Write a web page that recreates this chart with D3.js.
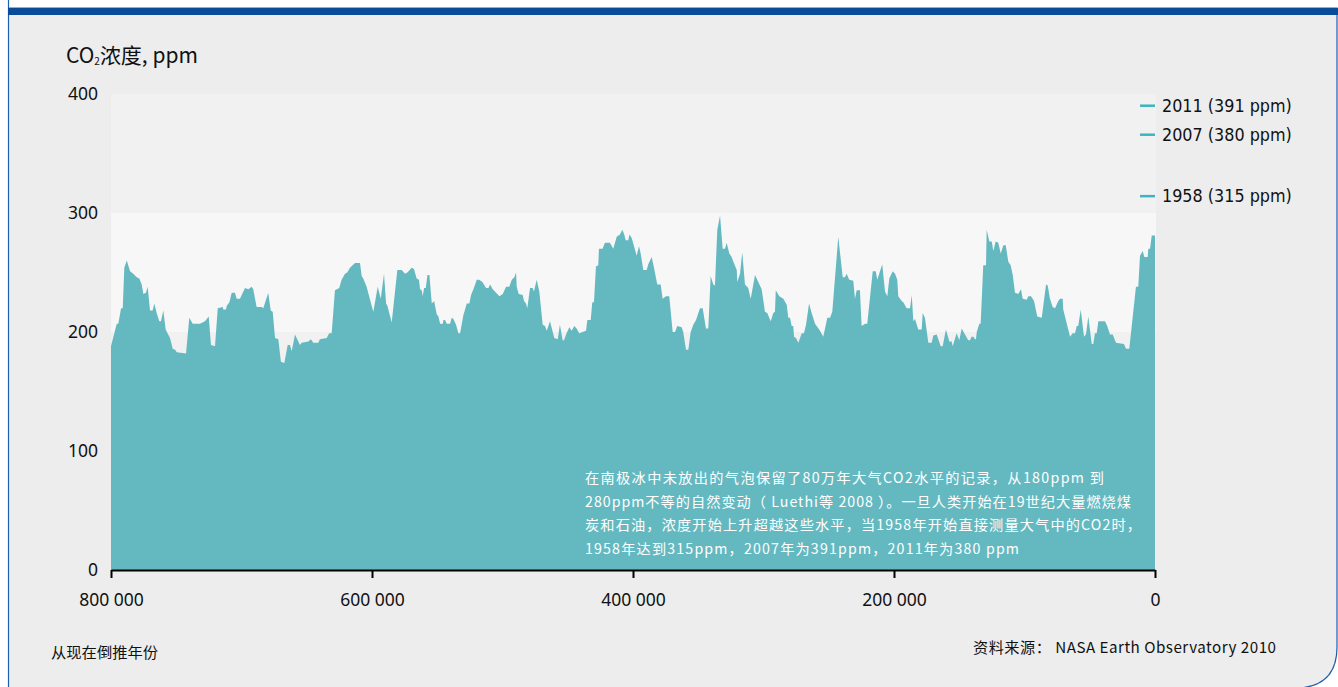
<!DOCTYPE html>
<html><head><meta charset="utf-8">
<script src="https://cdn.jsdelivr.net/npm/d3@7"></script>
<style>body{margin:0;background:#fff;}svg{display:block}</style>
</head><body>
<svg id="c" width="1338" height="687"></svg>
<script>
// kyr before present
const years = [800,795.6,794.4,792.3,791,789.8,787.9,785.4,782.9,780.3,778.3,776.5,775.2,773.2,771.9,770.1,768.1,766.8,765,763,761.7,759.9,758.1,754.8,752.7,750.9,749.6,742.5,740,737.4,731.8,728,725.1,723.4,720.3,718.2,714.4,713.9,711.9,711.3,709.3,707.5,705,703.7,701.2,697.3,694.8,692.2,691,688.4,684.5,683.3,679.5,677.6,676.1,674.3,671.8,669.8,667.2,664.6,662.9,661.5,659,655.2,653.9,648.8,646.8,645,641.2,639.9,634.7,632.8,630.9,628.4,625.1,623.3,620.7,619,616.9,613,609.2,607.9,606.7,604.1,601.5,599,595.6,593.3,590.8,589.2,588.2,584.9,580.6,577.2,574.7,572.9,569.6,567.8,565.8,564,563.2,561.9,561.1,560.1,558.8,557.5,556,554.2,552.4,550.4,549.1,547.8,545.7,545.3,544,542.7,540.2,538.9,537.6,535.6,533.8,532.5,530,528.7,527.4,525.4,524.1,522.3,519.7,517.9,515.4,512.6,510.8,509.5,507.5,504.9,502.4,499.8,497.3,494.8,492.9,490.9,489.6,489.1,487.6,484.5,483.5,482,481,478.9,476.9,475.9,473.8,471.8,469.2,467.4,466.1,463.6,460.3,457.7,456,453.9,452.9,450.9,448.8,447,445,443.2,441.2,436,435,432.4,431.2,429.9,428.4,426.6,426.1,423.3,421.5,417.7,415.1,412.5,410,408.2,406.7,405.6,403.6,402.8,401,399.2,397.2,395.4,394.1,392.1,389.5,388.3,385.7,383.9,381.4,378.8,377.3,374.7,372.2,369.6,367.8,366.1,362.7,361.5,359.4,357.6,355.8,353.8,351.7,348.7,346.6,344.1,342.3,340.5,338.5,337.2,335.4,333.3,331.3,329.5,328.2,326.2,324.4,323.1,320.5,320.1,318,316.3,314.2,311.7,309.8,306.5,304,301.4,300.2,298.9,297.1,294.5,292.5,291.2,290.6,287.9,284.8,282.2,281,279.7,278.4,277.2,276.6,275.1,273.3,270.7,269,267.4,265.1,263.1,260.5,256.7,254.2,251.1,249,247.3,242.7,239.3,237.6,236.3,234.3,231.2,229.9,228.6,226.1,224.8,222.2,220.5,216.3,214,212.8,209,206.9,205.1,203.6,201,199.2,197.5,196.7,194.1,192.9,190.3,187.7,186.4,185.2,183.9,181.4,178.8,178,176.3,173.7,171.1,169.9,167.3,164.2,162.7,160.2,157.6,155.8,155,152,150,148.1,145.6,143.1,141.8,140.5,139.2,137.9,137.2,136.6,134.6,133.6,131.6,129.5,129,126.9,125.1,123.9,122.1,120.1,118.2,116.2,114.4,112.4,110.6,109,107.3,104.8,102.7,101.4,98.3,97.1,95,92.7,90.2,86.8,83.5,82.2,80.5,78.4,76.6,74.1,72.8,70.7,70.3,65.1,63.1,61.3,60,58.8,56.9,54.4,52.9,51.1,48.5,47.3,46,44.7,43.4,38.3,36.6,34.5,32.4,29.9,23.8,22.2,19.7,14.6,12.8,11.5,9.4,8.2,5.6,5.1,3.8,2.5,0];
const co2 = [188,207,207,220,220,254,260,251,249,246,245,240,232,233,238,218,218,224,216,209,209,218,202,195,186,185,183,182,212,207,207,209,213,189,188,220,221,219,219,222,225,233,233,228,228,237,236,238,236,221,221,220,233,218,217,195,194,175,174,189,189,184,198,189,191,192,194,191,191,194,195,199,199,235,237,244,249,250,254,258,258,247,245,238,227,217,238,228,249,224,222,208,252,252,249,250,254,253,245,244,236,235,230,237,237,248,248,224,226,215,213,207,207,210,210,207,207,212,211,206,199,199,214,219,224,224,231,236,244,244,242,237,237,240,236,233,230,232,238,238,244,246,250,238,232,231,226,224,220,237,237,234,244,234,206,205,201,209,195,194,206,193,193,199,204,201,205,203,199,201,210,210,225,225,255,256,270,270,275,275,270,280,282,286,282,277,277,282,279,272,264,272,266,252,252,257,263,254,240,240,228,230,230,200,200,205,204,200,185,185,200,206,210,220,220,203,203,247,240,239,286,298,270,270,275,266,263,259,252,242,249,267,240,237,228,248,242,236,227,217,216,209,216,217,235,230,228,223,212,212,205,205,196,195,191,199,199,206,224,216,207,201,196,212,212,217,280,246,246,249,244,243,228,235,235,205,207,207,251,251,244,257,234,230,245,251,249,244,230,226,225,220,220,231,209,211,202,202,216,212,191,191,197,198,188,188,202,192,192,188,199,193,203,198,193,193,196,196,194,194,200,207,207,256,256,286,276,276,268,276,275,266,273,273,259,256,248,233,232,236,228,227,230,230,226,213,212,240,239,228,221,220,226,228,228,219,196,199,199,205,205,219,196,198,213,190,190,199,199,209,209,205,198,198,191,190,186,186,238,238,264,268,263,263,270,270,281,281];
const yTicks = [0,100,200,300,400];
const xTicks = [800000,600000,400000,200000,0];
const xTickLabels = ["800 000","600 000","400 000","200 000","0"];
const legendYears = ["2011","2007","1958"];
const legendValues = [391,380,315];
const bands = [[0,200,"#f1f1f1"],[200,300,"#f7f7f7"],[300,400,"#f1f1f1"]];
const noteLines = [
 "在南极冰中未放出的气泡保留了80万年大气CO2水平的记录，从180ppm 到",
 "280ppm不等的自然变动（ Luethi等 2008 ）。一旦人类开始在19世纪大量燃烧煤",
 "炭和石油，浓度开始上升超越这些水平，当1958年开始直接测量大气中的CO2时，",
 "1958年达到315ppm，2007年为391ppm，2011年为380 ppm"];
const noteWidths = [519, 546, 556, 434];

const svg = d3.select("#c");
const W=1338,H=687;
// panel
svg.append("path")
  .attr("d",`M8.5,0 L8.5,8 L1337,8 L1337,${H-40} Q1337,${H-2} 1300,${H+1} L8.5,${H+1} Z`)
  .attr("fill","#ededed").attr("stroke","#1f5fb0").attr("stroke-width",1.2);
svg.append("rect").attr("x",8).attr("y",8).attr("width",W-8).attr("height",7).attr("fill","#0b4c9a");

const x = d3.scaleLinear().domain([800000,0]).range([111,1155]);
const y = d3.scaleLinear().domain([0,400]).range([570,94]);

const cjk = "'Noto Sans CJK SC','Noto Sans',sans-serif";
const num = "'Noto Sans','Open Sans',sans-serif";

svg.selectAll("rect.band").data(bands).join("rect")
  .attr("x",x(800000)).attr("width",x(0)-x(800000)+1)
  .attr("y",d=>y(d[1])).attr("height",d=>y(d[0])-y(d[1])).attr("fill",d=>d[2]);

const data = years.map((k,i)=>({t:k*1000,v:co2[i]}));
svg.append("path").datum(data)
  .attr("d",d3.area().x(d=>x(d.t)).y0(y(0)).y1(d=>y(d.v)))
  .attr("fill","#64b9c1");

// x axis
const xa = svg.append("g").attr("transform",`translate(0,${y(0)})`)
  .call(d3.axisBottom(x).tickValues(xTicks).tickFormat((d,i)=>xTickLabels[i]).tickSizeOuter(0).tickSizeInner(8).tickPadding(16));
xa.select(".domain").attr("stroke","#000").attr("stroke-width",2);
xa.selectAll(".tick line").attr("stroke","#000").attr("stroke-width",2);
xa.selectAll("text").attr("font-family",num).attr("font-size",17.5).attr("fill","#111");

// y axis labels
const ya = svg.append("g").attr("transform",`translate(98,0)`)
  .call(d3.axisLeft(y).tickValues(yTicks).tickSize(0).tickPadding(0));
ya.select(".domain").remove();
ya.selectAll("text").attr("font-family",num).attr("font-size",17.5).attr("fill","#111");

// title
const t = svg.append("text").attr("x",66).attr("y",63).attr("font-family",cjk).attr("font-size",21).attr("fill","#111");
t.append("tspan").text("CO");
t.append("tspan").attr("font-size",10).attr("dy",2).text("2");
t.append("tspan").attr("dy",-2).text("浓度, ppm");

// legend with simple collision spacing
let prev=-Infinity; const ly=[];
legendValues.forEach(v=>{let p=Math.max(y(v),prev+29);ly.push(p);prev=p;});
const lg = svg.selectAll("g.leg").data(legendValues).join("g").attr("transform",(d,i)=>`translate(0,${ly[i]+1})`);
lg.append("line").attr("x1",1140).attr("x2",1155).attr("stroke","#3db4bf").attr("stroke-width",2.5);
lg.append("text").attr("x",1162).attr("dy","0.35em").attr("font-family","'DejaVu Sans Condensed','DejaVu Sans',sans-serif")
  .attr("font-size",17.8).attr("fill","#111").text((d,i)=>`${legendYears[i]} (${d} ppm)`);

// note
svg.selectAll("text.note").data(noteLines).join("text").attr("class","note")
  .attr("x",585).attr("y",(d,i)=>483+i*23.7).attr("font-family",cjk).attr("font-size",14.2).attr("fill","#fff")
  .attr("textLength",(d,i)=>noteWidths[i]).attr("lengthAdjust","spacing").text(d=>d);

svg.append("text").attr("x",51).attr("y",658).attr("font-family",cjk).attr("font-size",15.3).attr("fill","#111").text("从现在倒推年份");
svg.append("text").attr("x",1276).attr("y",653).attr("text-anchor","end").attr("font-family",cjk).attr("font-size",15.2)
  .attr("textLength",303).attr("lengthAdjust","spacing").attr("fill","#111").text("资料来源： NASA Earth Observatory 2010");
</script>
</body></html>
